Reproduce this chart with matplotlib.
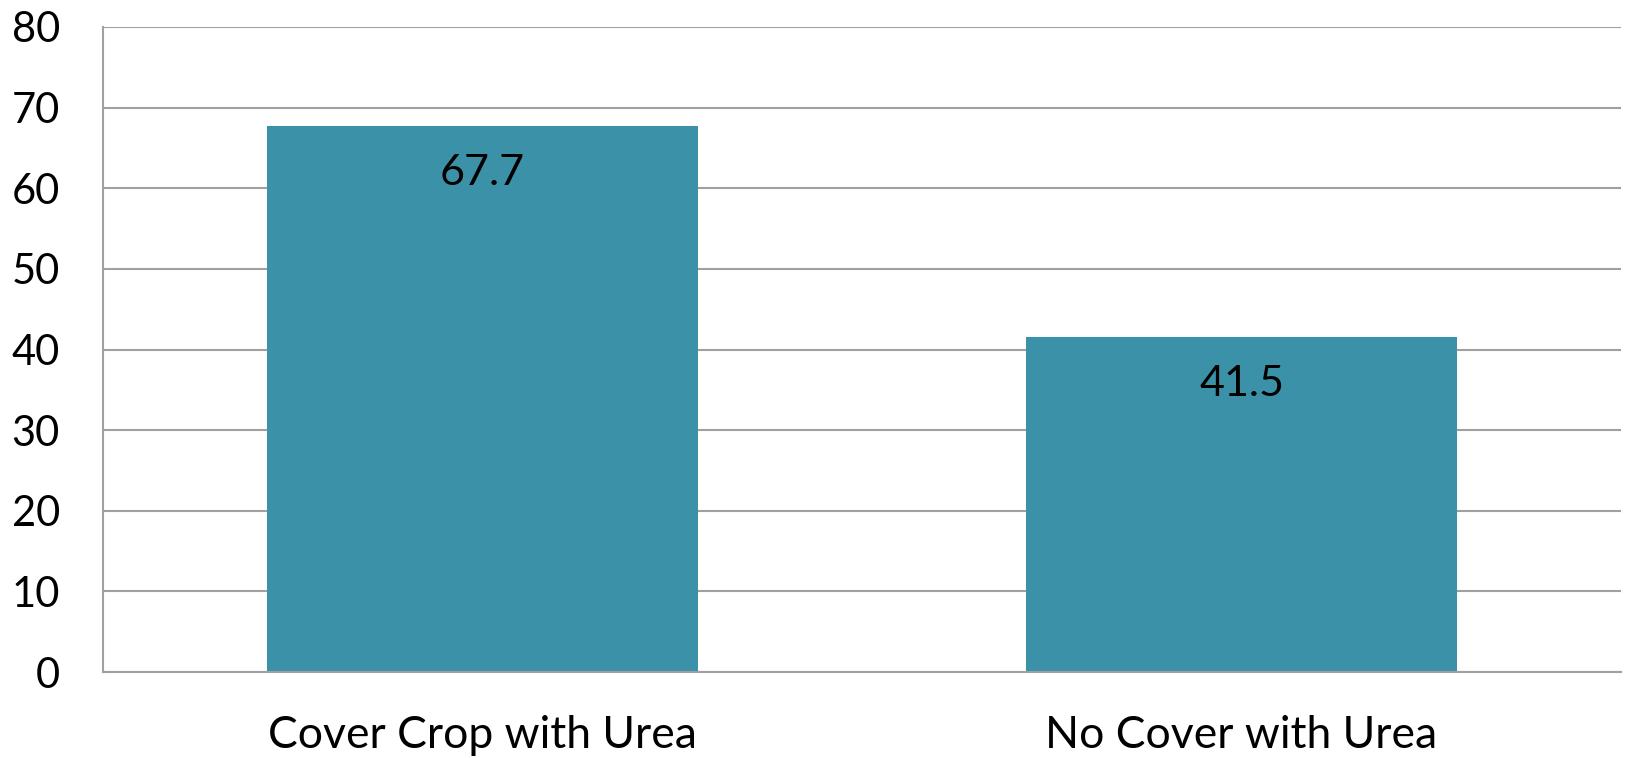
import matplotlib
matplotlib.use("Agg")
import matplotlib.pyplot as plt

categories = ["Cover Crop with Urea", "No Cover with Urea"]
values = [67.7, 41.5]
yticks = [0, 10, 20, 30, 40, 50, 60, 70, 80]

BAR_COLOR = "#3A91A8"
GRID_COLOR = "#A0A0A0"

plt.rcParams["font.family"] = ["Lato", "DejaVu Sans"]

fig = plt.figure(figsize=(16.27, 7.58), dpi=100)
ax = fig.add_axes([103 / 1627, 1 - 672 / 758, 1518 / 1627, 645 / 758])

x = list(range(len(categories)))
bars = ax.bar(x, values, width=0.569, color=BAR_COLOR, zorder=2)

for b, v in zip(bars, values):
    ax.annotate(f"{v}", (b.get_x() + b.get_width() / 2, v), xytext=(0, -20),
                textcoords="offset points", ha="center", va="top", fontsize=31, color="black")

ax.set_xlim(-0.5, len(categories) - 0.5)
ax.set_ylim(0, 80)
ax.set_yticks(yticks)
ax.set_xticks(x)
ax.set_xticklabels(categories, fontsize=32)
ax.tick_params(axis="y", length=0, labelsize=30, colors="black", pad=31)
ax.tick_params(axis="x", length=0, colors="black", pad=31)

ax.yaxis.grid(True, color=GRID_COLOR, linewidth=1.5, zorder=1)
ax.set_axisbelow(True)
for side in ["top", "right"]:
    ax.spines[side].set_visible(False)
for side in ["left", "bottom"]:
    ax.spines[side].set_color(GRID_COLOR)
    ax.spines[side].set_linewidth(1.5)

fig.savefig("out.png", dpi=100)
